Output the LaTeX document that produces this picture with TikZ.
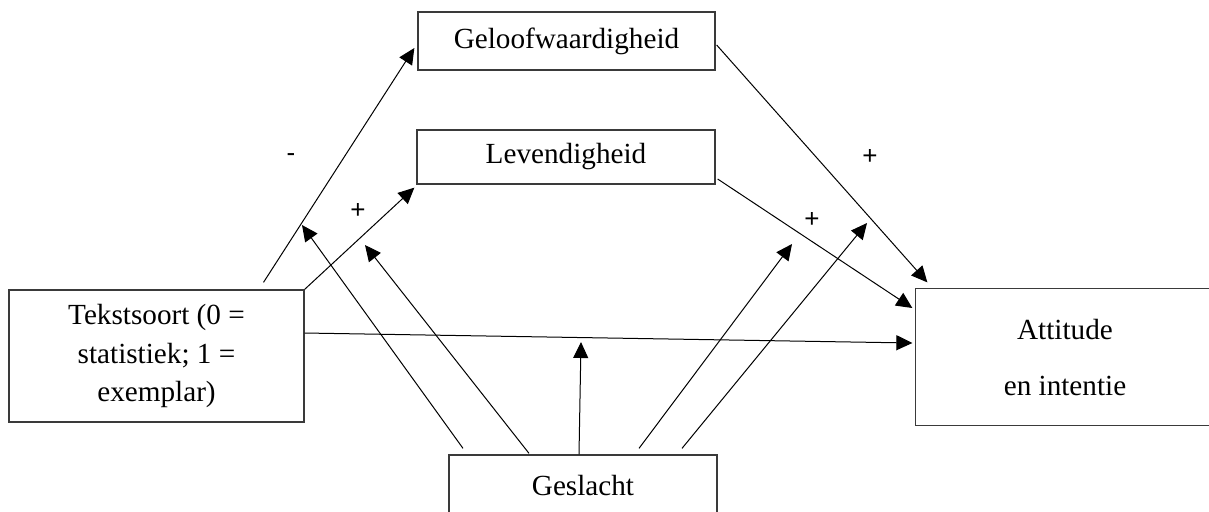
\documentclass[tikz,border=0pt]{standalone}
\usepackage{fontspec}
\setmainfont{Liberation Serif}
\newfontfamily\labelfont{Liberation Sans}
\usepackage{tikz}
\usetikzlibrary{arrows.meta, calc}
\definecolor{BoxGray}{HTML}{3A3A3A}
\tikzset{
  box/.style={
    rectangle, draw=BoxGray, line width=0.65pt,
    inner sep=0pt, align=center,
    font=\fontsize{14.6}{19.3}\selectfont
  },
  arr/.style={-{Triangle[length=8pt, width=7.5pt]}, line width=0.5pt, color=black},
  sign/.style={font=\labelfont\fontsize{13}{14}\selectfont, inner sep=0pt},
}

\begin{document}
\begin{tikzpicture}[x=0.5pt, y=-0.5pt]

\useasboundingbox (0,0) rectangle (1209,511);
\clip (0,0) rectangle (1209,511);

\node[box, minimum width=148.5pt, minimum height=29pt] at (566.5,41) (geloof) {Geloofwaardigheid};
\node[box, minimum width=149pt, minimum height=27pt] at (566,157) (leven) {Levendigheid};
\node[box, minimum width=147.5pt, minimum height=66pt] at (156.5,356) (tekst) {
  Tekstsoort (0 =\\ statistiek; 1 =\\ exemplar)
};
\node[box, draw=none, minimum width=149pt, minimum height=68pt] at (1065,357) (attit) {
  Attitude\\[8.7pt] en intentie
};
% rechterrand valt buiten het beeld
\draw[BoxGray, line width=0.65pt] ($(attit.north east)+(40,0)$) -- (attit.north west)
  -- (attit.south west) -- ($(attit.south east)+(40,0)$);
\node[box, minimum width=134pt, minimum height=30pt] at (583,485) (geslacht) {Geslacht};

% paden van tekstsoort
\draw[arr] ($(tekst.north)+(107,-7)$) -- ($(geloof.west)+(-3,7)$);
\draw[arr] (tekst.north east) -- ($(leven.south west)+(-2,3)$);
\draw[arr] ($(tekst.east)+(0,-23)$) -- ($(attit.west)+(-3,-14)$);

% paden naar attitude
\draw[arr] ($(geloof.east)+(1,4)$) -- ($(attit.north west)+(12,-6)$);
\draw[arr] ($(leven.east)+(2,22)$) -- ($(attit.west)+(-3,-49)$);

% moderatie door geslacht
\coordinate (modA) at (302,225);
\coordinate (modB) at (365,245);
\coordinate (modC) at (581,342);
\coordinate (modD) at (792,244);
\coordinate (modE) at (867,223);

\draw[arr] ($(geslacht.north)+(-120,-6)$) -- (modA);
\draw[arr] ($(geslacht.north)+(-54,-1)$) -- (modB);
\draw[arr] ($(geslacht.north)+(-4,0)$) -- (modC);
\draw[arr] ($(geslacht.north)+(56,-6)$) -- (modD);
\draw[arr] ($(geslacht.north)+(99,-6)$) -- (modE);

\node[sign] at (291,158) (s1) {-};
\node[sign] at (358,211) (s2) {+};
\node[sign] at (870,157) (s3) {+};
\node[sign] at (812,220) (s4) {+};

\end{tikzpicture}
\end{document}
